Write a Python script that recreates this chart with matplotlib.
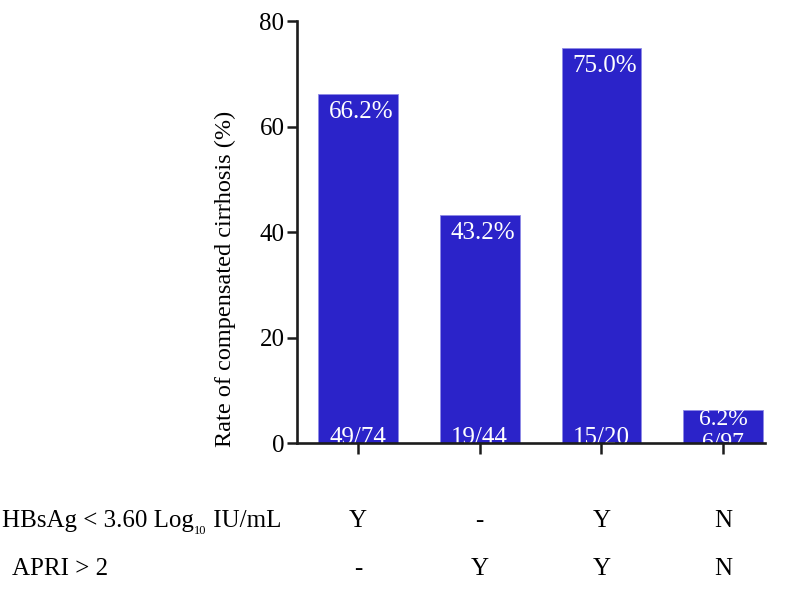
import numpy as np
import matplotlib.pyplot as plt
import matplotlib.transforms as mtransforms

plt.rcParams['font.family'] = ['Liberation Serif', 'DejaVu Serif']

# data
rates = [66.2, 43.2, 75.0, 6.2]
rate_labels = ['66.2%', '43.2%', '75.0%', '6.2%']
counts = ['49/74', '19/44', '15/20', '6/97']
hbsag = ['Y', '-', 'Y', 'N']
apri = ['-', 'Y', 'Y', 'N']
yticks = [0, 20, 40, 60, 80]

bar_color = '#2b23c9'
ink = '#1c1c1c'

fig = plt.figure(figsize=(7.94, 5.91), dpi=100)
ax = fig.add_axes([0.374, 0.2504, 0.589, 0.7136])

x = np.arange(len(rates))
w = 0.655
ax.bar(x, rates, width=w, color=bar_color, edgecolor='#8f8be6', linewidth=0.6, zorder=1)

ax.set_xlim(-0.5, 3.34)
ax.set_ylim(0, 80)
ax.set_yticks(yticks)
ax.set_xticks(x)
ax.set_xticklabels([])
ax.tick_params(axis='y', labelsize=18, length=7, width=1.8, color=ink, pad=2)
ax.tick_params(axis='x', length=8, width=1.8, color=ink)
for s in ['top', 'right']:
    ax.spines[s].set_visible(False)
for s in ['left', 'bottom']:
    ax.spines[s].set_linewidth(1.9)
    ax.spines[s].set_color(ink)
    ax.spines[s].set_zorder(3)

ax.set_ylabel('Rate of compensated cirrhosis (%)', fontsize=17.5)
ax.yaxis.set_label_coords(-0.13, 0.39)

# value labels inside bars
for i in range(3):
    ax.annotate(rate_labels[i], xy=(x[i] + w / 2, rates[i]), xytext=(-3, -5),
                textcoords='offset points', ha='right', va='top',
                color='white', fontsize=18, zorder=2)
    ax.annotate(counts[i], xy=(x[i], 0), xytext=(0, -4),
                textcoords='offset points', ha='center', va='bottom',
                color='white', fontsize=18, zorder=2, annotation_clip=False, clip_on=True)
ax.annotate(rate_labels[3], xy=(x[3], rates[3]), xytext=(0, 1),
            textcoords='offset points', ha='center', va='top',
            color='white', fontsize=17, zorder=2)
ax.annotate(counts[3], xy=(x[3], 0), xytext=(0, -7),
            textcoords='offset points', ha='center', va='bottom',
            color='white', fontsize=17, zorder=2, annotation_clip=False, clip_on=True)

# criteria table under the axis
trans = mtransforms.blended_transform_factory(ax.transData, fig.transFigure)
fs = 18
row1, row2 = 0.108, 0.027
t1 = fig.text(0.002, row1, 'HBsAg < 3.60 Log', fontsize=fs, va='baseline', ha='left')
fig.canvas.draw()
r = fig.canvas.get_renderer()
bb = t1.get_window_extent(r).transformed(fig.transFigure.inverted())
t2 = fig.text(bb.x1 + 0.001, row1 - 0.012, '10', fontsize=9, va='baseline', ha='left')
bb2 = t2.get_window_extent(r).transformed(fig.transFigure.inverted())
fig.text(bb2.x1, row1, ' IU/mL', fontsize=fs, va='baseline', ha='left')
fig.text(0.015, row2, 'APRI > 2', fontsize=fs, va='baseline', ha='left')
for i in range(len(x)):
    ax.text(x[i], row1, hbsag[i], transform=trans, fontsize=fs, ha='center', va='baseline')
    ax.text(x[i], row2, apri[i], transform=trans, fontsize=fs, ha='center', va='baseline')

fig.savefig('out.png', dpi=100)
